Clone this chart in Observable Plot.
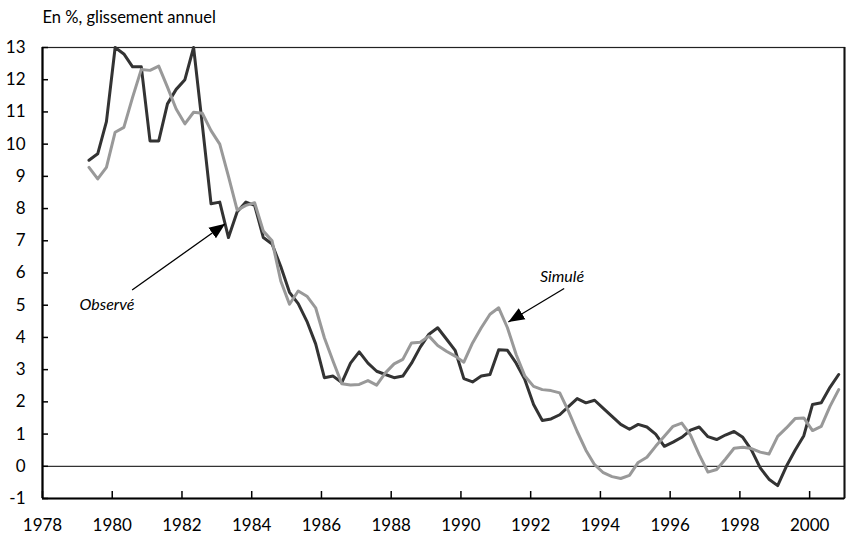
<!DOCTYPE html>
<html><head><meta charset="utf-8">
<script src="https://cdn.jsdelivr.net/npm/d3@7"></script>
<script src="https://cdn.jsdelivr.net/npm/@observablehq/plot@0.6"></script>
<style>
html,body{margin:0;padding:0;background:#fff}
#chart svg{display:block}
</style>
</head><body><div id="chart"></div>
<script>
// Quarterly series, first point 1979 Q2 (positioned mid-quarter)
const firstDate = 1979 + 1/3;
const stepYears = 0.25;

const observe = [
  9.5, 9.7, 10.7, 13.0, 12.8, 12.4, 12.4, 10.1, 10.1, 11.25,
  11.7, 12.0, 13.0, 10.6, 8.15, 8.2, 7.1, 7.9, 8.2, 8.1,
  7.1, 6.9, 6.2, 5.4, 5.05, 4.5, 3.8, 2.75, 2.8, 2.6,
  3.2, 3.55, 3.2, 2.95, 2.85, 2.75, 2.8, 3.2, 3.7, 4.1,
  4.3, 3.95, 3.6, 2.72, 2.62, 2.8, 2.85, 3.62, 3.6, 3.2,
  2.69, 1.92, 1.42, 1.47, 1.6, 1.85, 2.1, 1.97, 2.05, 1.8,
  1.55, 1.3, 1.15, 1.3, 1.22, 1.0, 0.62, 0.75, 0.9, 1.12,
  1.22, 0.92, 0.83, 0.97, 1.08, 0.9, 0.5, -0.05, -0.4, -0.6,
  0.0, 0.5, 0.95, 1.92, 1.97, 2.45, 2.85
];
const simule = [
  9.28, 8.92, 9.28, 10.37, 10.52, 11.45, 12.32, 12.29, 12.42, 11.77,
  11.09, 10.63, 10.99, 10.96, 10.42, 10.0, 9.0, 7.95, 8.1, 8.18,
  7.3, 7.0, 5.75, 5.03, 5.44, 5.28, 4.92, 3.99, 3.26, 2.56,
  2.52, 2.54, 2.66, 2.52, 2.9, 3.18, 3.32, 3.83, 3.85, 4.04,
  3.75, 3.57, 3.42, 3.23, 3.83, 4.3, 4.72, 4.92, 4.3, 3.47,
  2.8, 2.48, 2.38, 2.35, 2.28, 1.71, 1.08, 0.5, 0.05, -0.2,
  -0.32, -0.38, -0.28, 0.12, 0.28, 0.62, 0.93, 1.24, 1.34, 0.97,
  0.36, -0.18, -0.1, 0.22, 0.56, 0.59, 0.55, 0.44, 0.38, 0.93,
  1.19, 1.48, 1.5, 1.11, 1.24, 1.86, 2.38
];

const xTicks = [1978, 1980, 1982, 1984, 1986, 1988, 1990, 1992, 1994, 1996, 1998, 2000];
const yTicks = [-1, 0, 1, 2, 3, 4, 5, 6, 7, 8, 9, 10, 11, 12, 13];
const title = "En %, glissement annuel";

const labels = [
  {text: "Observé", x: 1979.85, y: 5.0},
  {text: "Simulé", x: 1992.9, y: 5.87}
];
const arrows = [
  {x1: 1980.57, y1: 5.47, x2: 1983.24, y2: 7.53},
  {x1: 1992.96, y1: 5.52, x2: 1991.36, y2: 4.48}
];

const rows = (vals) => vals.map((v, i) => ({t: firstDate + i * stepYears, v}));
const obsRows = rows(observe);
const simRows = rows(simule);

function headMarker(color, context) {
  const doc = (context && context.document) || document;
  const ns = "http://www.w3.org/2000/svg";
  const m = doc.createElementNS(ns, "marker");
  m.setAttribute("viewBox", "-16 -7 16 14");
  m.setAttribute("markerWidth", "16");
  m.setAttribute("markerHeight", "14");
  m.setAttribute("markerUnits", "userSpaceOnUse");
  m.setAttribute("refX", "0");
  m.setAttribute("refY", "0");
  m.setAttribute("orient", "auto");
  const p = doc.createElementNS(ns, "path");
  p.setAttribute("d", "M-16,-6.5L0,0L-16,6.5Z");
  p.setAttribute("fill", "#000");
  p.setAttribute("stroke", "none");
  m.appendChild(p);
  return m;
}

const font = "Lato, 'Open Sans', sans-serif";

const chart = Plot.plot({
  width: 847,
  height: 540,
  marginLeft: 42,
  marginRight: 3,
  marginTop: 47,
  marginBottom: 42,
  style: {fontFamily: font, fontSize: "17px", color: "#000", background: "#fff"},
  x: {domain: [1978, 2001]},
  y: {domain: [-1, 13]},
  marks: [
    Plot.ruleY([0], {stroke: "#333", strokeWidth: 1.3}),
    Plot.frame({stroke: "#222", strokeWidth: 1.2}),
    Plot.ruleX([1978], {stroke: "#000", strokeWidth: 2.2}),
    Plot.ruleX([2001], {stroke: "#111", strokeWidth: 2}),
    Plot.ruleY([-1], {stroke: "#000", strokeWidth: 2.2}),
    Plot.axisX({ticks: xTicks, tickFormat: d => String(d), tickSize: -7, tickPadding: 27, strokeWidth: 1.5, label: null}),
    Plot.axisY({ticks: yTicks, tickFormat: d => String(d), tickSize: -6, tickPadding: 23, strokeWidth: 1.5, label: null}),
    Plot.line(obsRows, {x: "t", y: "v", stroke: "#333", strokeWidth: 3}),
    Plot.line(simRows, {x: "t", y: "v", stroke: "#999", strokeWidth: 3}),
    Plot.link(arrows, {x1: "x1", y1: "y1", x2: "x2", y2: "y2", stroke: "#000", strokeWidth: 1.3, markerEnd: headMarker}),
    Plot.text(labels, {x: "x", y: "y", text: "text", fontStyle: "italic", fontSize: 16, fill: "#000"}),
    Plot.text([title], {frameAnchor: "top-left", textAnchor: "start", lineAnchor: "bottom", dy: -25, fontSize: 16.5, fill: "#000"})
  ]
});
document.getElementById("chart").appendChild(chart);
</script>
</body></html>
